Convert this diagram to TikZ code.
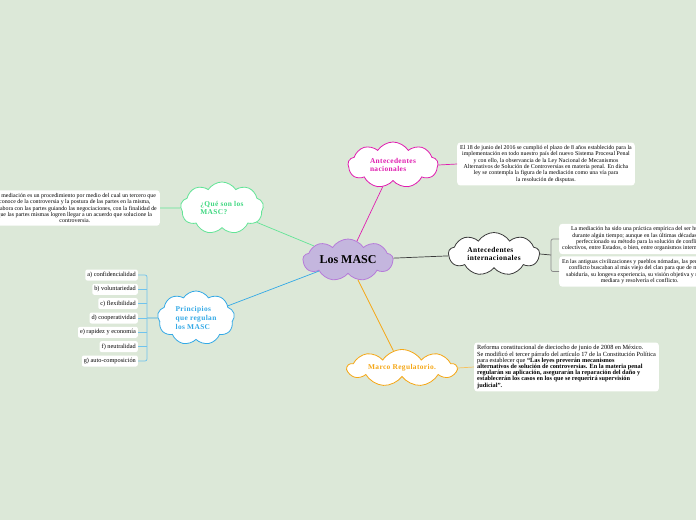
\documentclass[tikz,border=0pt]{standalone}
\usepackage{fontspec}
\setmainfont{Liberation Serif}
\usepackage{xcolor}
\usetikzlibrary{shapes.symbols,positioning,calc}
\definecolor{bgcol}{HTML}{DCE8D8}
\definecolor{mascfill}{HTML}{C4B6DE}
\definecolor{mascline}{HTML}{B67BD9}
\definecolor{nacline}{HTML}{E01DB0}
\definecolor{queline}{HTML}{62E496}
\definecolor{quetext}{HTML}{3ED880}
\definecolor{intline}{HTML}{3A3A3A}
\definecolor{marcoline}{HTML}{F5A716}
\definecolor{prinline}{HTML}{33A9E6}
\tikzset{
  idea/.style={cloud, cloud puffs=9, cloud puff arc=115, cloud ignores aspect, draw, fill=white, line width=0.8pt, align=left, inner sep=0pt, font=\fontsize{7.4}{8.6}\selectfont\bfseries\addfontfeature{LetterSpace=5}},
  note/.style={fill=white, rounded corners=3pt, align=center, inner sep=3pt, font=\fontsize{5.9}{6.3}\selectfont},
  itembox/.style={fill=white, rounded corners=2pt, inner sep=2pt, minimum height=11pt, font=\fontsize{6.3}{7}\selectfont},
  link/.style={line width=0.7pt},
}
\begin{document}
\begin{tikzpicture}[x=1pt,y=-1pt]
  \fill[bgcol] (0,0) rectangle (696,520);
  \useasboundingbox (0,0) rectangle (696,520);
  \clip (0,0) rectangle (696,520);

  % main idea
  \node[idea, draw=mascline, fill=mascfill, minimum width=90, minimum height=42, align=center, font=\fontsize{12}{13}\selectfont\bfseries] (masc) at (348,260) {Los MASC};

  % branches
  \node[idea, draw=nacline, text=nacline, minimum width=90, minimum height=46] (nac) at (393,165) {Antecedentes\\nacionales};
  \node[idea, draw=queline, text=quetext, minimum width=83, minimum height=52] (que) at (222,208) {¿Qué son los\\MASC?};
  \node[idea, draw=intline, text=black, minimum width=91, minimum height=43] (intl) at (494,254) {Antecedentes\\internacionales};
  \node[idea, draw=marcoline, text=marcoline, minimum width=109, minimum height=37] (marco) at (402,368) {Marco Regulatorio.};
  \node[idea, draw=prinline, text=prinline, minimum width=77, minimum height=54] (prin) at (196,318) {Principios\\que regulan\\los MASC};

  % notes
  \node[note] (nacbox) at (546,164) {El 18 de junio del 2016 se cumplió el plazo de 8 años establecido para la\\implementación en todo nuestro país del nuevo Sistema Procesal Penal\\y con ello, la observancia de la Ley Nacional de Mecanismos\\Alternativos de Solución de Controversias en materia penal. En dicha\\ley se contempla la figura de la mediación como una vía para\\la resolución de disputas.};
  \node[note, anchor=east] (quebox) at (160,208) {La mediación es un procedimiento por medio del cual un tercero que\\conoce de la controversia y la postura de las partes en la misma,\\colabora con las partes guiando las negociaciones, con la finalidad de\\que las partes mismas logren llegar a un acuerdo que solucione la\\controversia.};
  \node[note, anchor=west] (ib1) at (559,239) {La mediación ha sido una práctica empírica del ser humano\\durante algún tiempo; aunque en las últimas décadas se ha\\perfeccionado su método para la solución de conflictos\\colectivos, entre Estados, o bien, entre organismos internacionales.};
  \node[note, anchor=west] (ib2) at (559,271.5) {En las antiguas civilizaciones y pueblos nómadas, las personas en\\conflicto buscaban al más viejo del clan para que de manera\\sabiduría, su longeva experiencia, su visión objetiva y neutral,\\mediara y resolvería el conflicto.};
  \node[note, anchor=west, align=left, font=\fontsize{6.3}{6.2}\selectfont] (marcobox) at (474,367) {Reforma constitucional de dieciocho de junio de 2008 en México.\\Se modificó el tercer párrafo del artículo 17 de la Constitución Política\\para establecer que \textbf{“Las leyes preverán mecanismos}\\\textbf{alternativos de solución de controversias. En la materia penal}\\\textbf{regularán su aplicación, asegurarán la reparación del daño y}\\\textbf{establecerán los casos en los que se requerirá supervisión}\\\textbf{judicial”.}};

  % principles
  \foreach \nm/\yy/\txt in {conf/275/a) confidencialidad, volu/289.3/b) voluntariedad, flex/303.6/c) flexibilidad, coop/318/d) cooperatividad, rapi/332.3/e) rapidez y economía, neut/346.6/f) neutralidad, auto/361/g) auto-composición} {
    \node[itembox, anchor=east] (\nm) at (138,\yy) {\txt};
  }
  \coordinate (pbar) at (147,318);
  \coordinate (ibar) at (551,255);

  % connectors
  \draw[link, nacline] (masc) -- (nac);
  \draw[link, nacline] (nac.east) -- (nacbox.west);
  \draw[link, queline] (masc) -- (que);
  \draw[link, queline] (que.west) -- (quebox.east);
  \draw[link, intline] (masc) -- (intl);
  \draw[link, marcoline] (masc) -- (marco);
  \draw[link, marcoline!70] (marco.east) -- (marcobox.west);
  \draw[link, prinline] (masc) -- (prin);

  \draw[link, intline] (intl.east) -- (ibar);
  \draw[link, intline!60, rounded corners=2pt] (ib1.west) -- (ib1.west -| ibar) -- (ib2.west -| ibar) -- (ib2.west);

  \draw[link, prinline] (prin.west) -- (coop.east -| pbar);
  \draw[link, prinline!70, rounded corners=2pt] (conf.east) -- (conf.east -| pbar) -- (auto.east -| pbar) -- (auto.east);
  \foreach \nm in {volu,flex,coop,rapi,neut} {
    \draw[link, prinline!70] (\nm.east) -- (\nm.east -| pbar);
  }
\end{tikzpicture}
\end{document}
